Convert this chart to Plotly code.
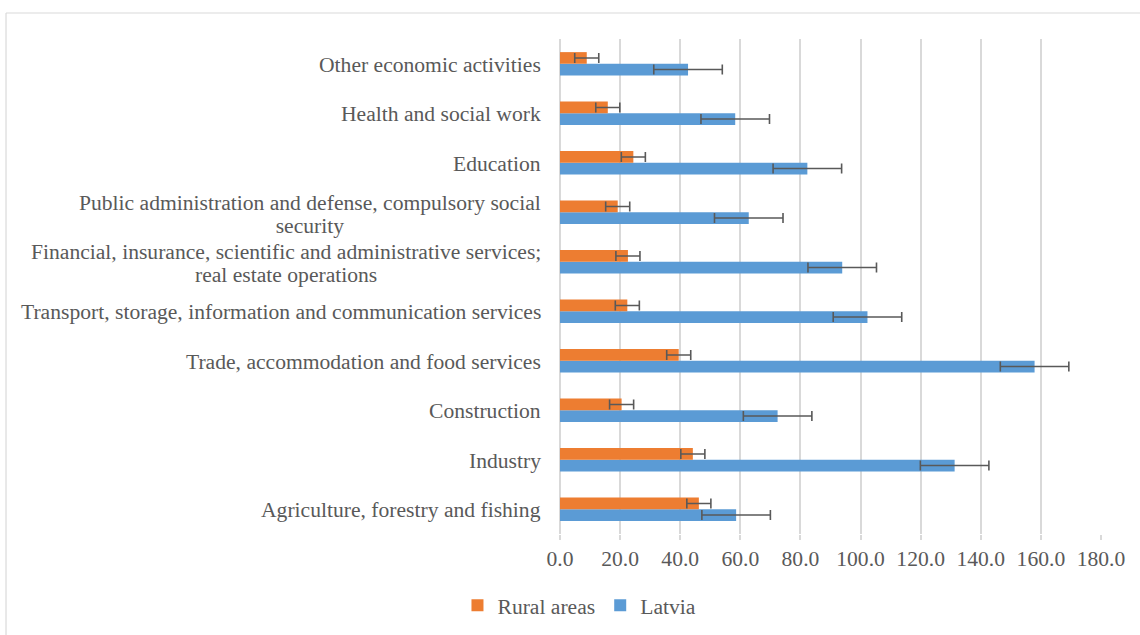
import plotly.graph_objects as go

categories = [
    "Agriculture, forestry and fishing",
    "Industry",
    "Construction",
    "Trade, accommodation and food services",
    "Transport, storage, information and communication services",
    "Financial, insurance, scientific and administrative services;<br>real estate operations",
    "Public administration and defense, compulsory social<br>security",
    "Education",
    "Health and social work",
    "Other economic activities",
]
rural = [46.2, 44.2, 20.5, 39.5, 22.4, 22.6, 19.2, 24.4, 15.9, 8.9]
latvia = [58.6, 131.3, 72.4, 157.9, 102.3, 93.9, 62.8, 82.3, 58.3, 42.6]
rural_err = [4.0, 4.0, 4.0, 4.0, 4.0, 4.0, 4.0, 4.0, 4.0, 4.0]
latvia_err = [11.4, 11.4, 11.4, 11.4, 11.4, 11.4, 11.4, 11.4, 11.4, 11.4]
tick_vals = [0, 20, 40, 60, 80, 100, 120, 140, 160, 180]

FONT = "Liberation Serif"
FS = 21.6
LINE_FS = 17.7  # base size that sets the spacing between wrapped lines
TXT = "#595959"
ERR = "#595959"

fig = go.Figure()
fig.add_trace(go.Bar(
    y=categories, x=latvia, orientation="h", name="Latvia",
    marker=dict(color="#5B9BD5", line=dict(width=0)),
    error_x=dict(type="data", array=latvia_err, symmetric=True,
                 color=ERR, thickness=1.6, width=5),
))
fig.add_trace(go.Bar(
    y=categories, x=rural, orientation="h", name="Rural areas",
    marker=dict(color="#ED7D31", line=dict(width=0)),
    error_x=dict(type="data", array=rural_err, symmetric=True,
                 color=ERR, thickness=1.6, width=5),
))

for c in categories:
    lines = c.split("<br>")
    if len(lines) > 1:
        txt = "<br>".join(f"<span style='font-size:{FS}px'>{ln}</span>" for ln in lines)
        size = LINE_FS
        ys = -2
    else:
        txt = c
        size = FS
        ys = -1
    fig.add_annotation(
        x=0, xref="paper", y=c, yref="y", text=txt, showarrow=False,
        xanchor="right", yanchor="middle", align="center", xshift=-17, yshift=ys,
        font=dict(family=FONT, size=size, color=TXT),
    )

# outer chart frame (only its left and top edges fall inside the picture)
fig.add_shape(type="line", xref="paper", yref="paper",
              x0=-1.024, x1=-1.024, y0=-0.23, y1=1.0525,
              line=dict(color="#d9d9d9", width=1.2), layer="below")
fig.add_shape(type="line", xref="paper", yref="paper",
              x0=-1.024, x1=1.1, y0=1.0525, y1=1.0525,
              line=dict(color="#d9d9d9", width=1.2), layer="below")

fig.update_layout(
    width=1140, height=635,
    margin=dict(l=560, r=39, t=39, b=101, autoexpand=False),
    paper_bgcolor="white", plot_bgcolor="white",
    barmode="group", bargap=0.53, bargroupgap=0,
    font=dict(family=FONT, size=FS, color=TXT),
    showlegend=True,
    legend=dict(orientation="h", x=0.036, xanchor="center", y=-0.145, yanchor="middle",
                traceorder="reversed", font=dict(family=FONT, size=FS, color=TXT),
                itemwidth=30, bgcolor="rgba(0,0,0,0)"),
    xaxis=dict(range=[0, 180], tickvals=tick_vals, tickformat=".1f",
               showgrid=True, gridcolor="#d9d9d9", gridwidth=1.5,
               zeroline=True, zerolinecolor="#d9d9d9", zerolinewidth=1.5,
               ticks="outside", ticklen=5, tickcolor="#d9d9d9", tickwidth=1.5,
               showline=False, ticklabelstandoff=0, automargin=False,
               tickfont=dict(family=FONT, size=FS, color=TXT)),
    yaxis=dict(showticklabels=False, showgrid=False, zeroline=False, ticks="",
               automargin=False,
               categoryorder="array", categoryarray=categories),
)

fig.write_html("out.html", config={"displayModeBar": False},
               post_script="document.body.style.margin='0px';document.body.style.overflow='hidden';")
